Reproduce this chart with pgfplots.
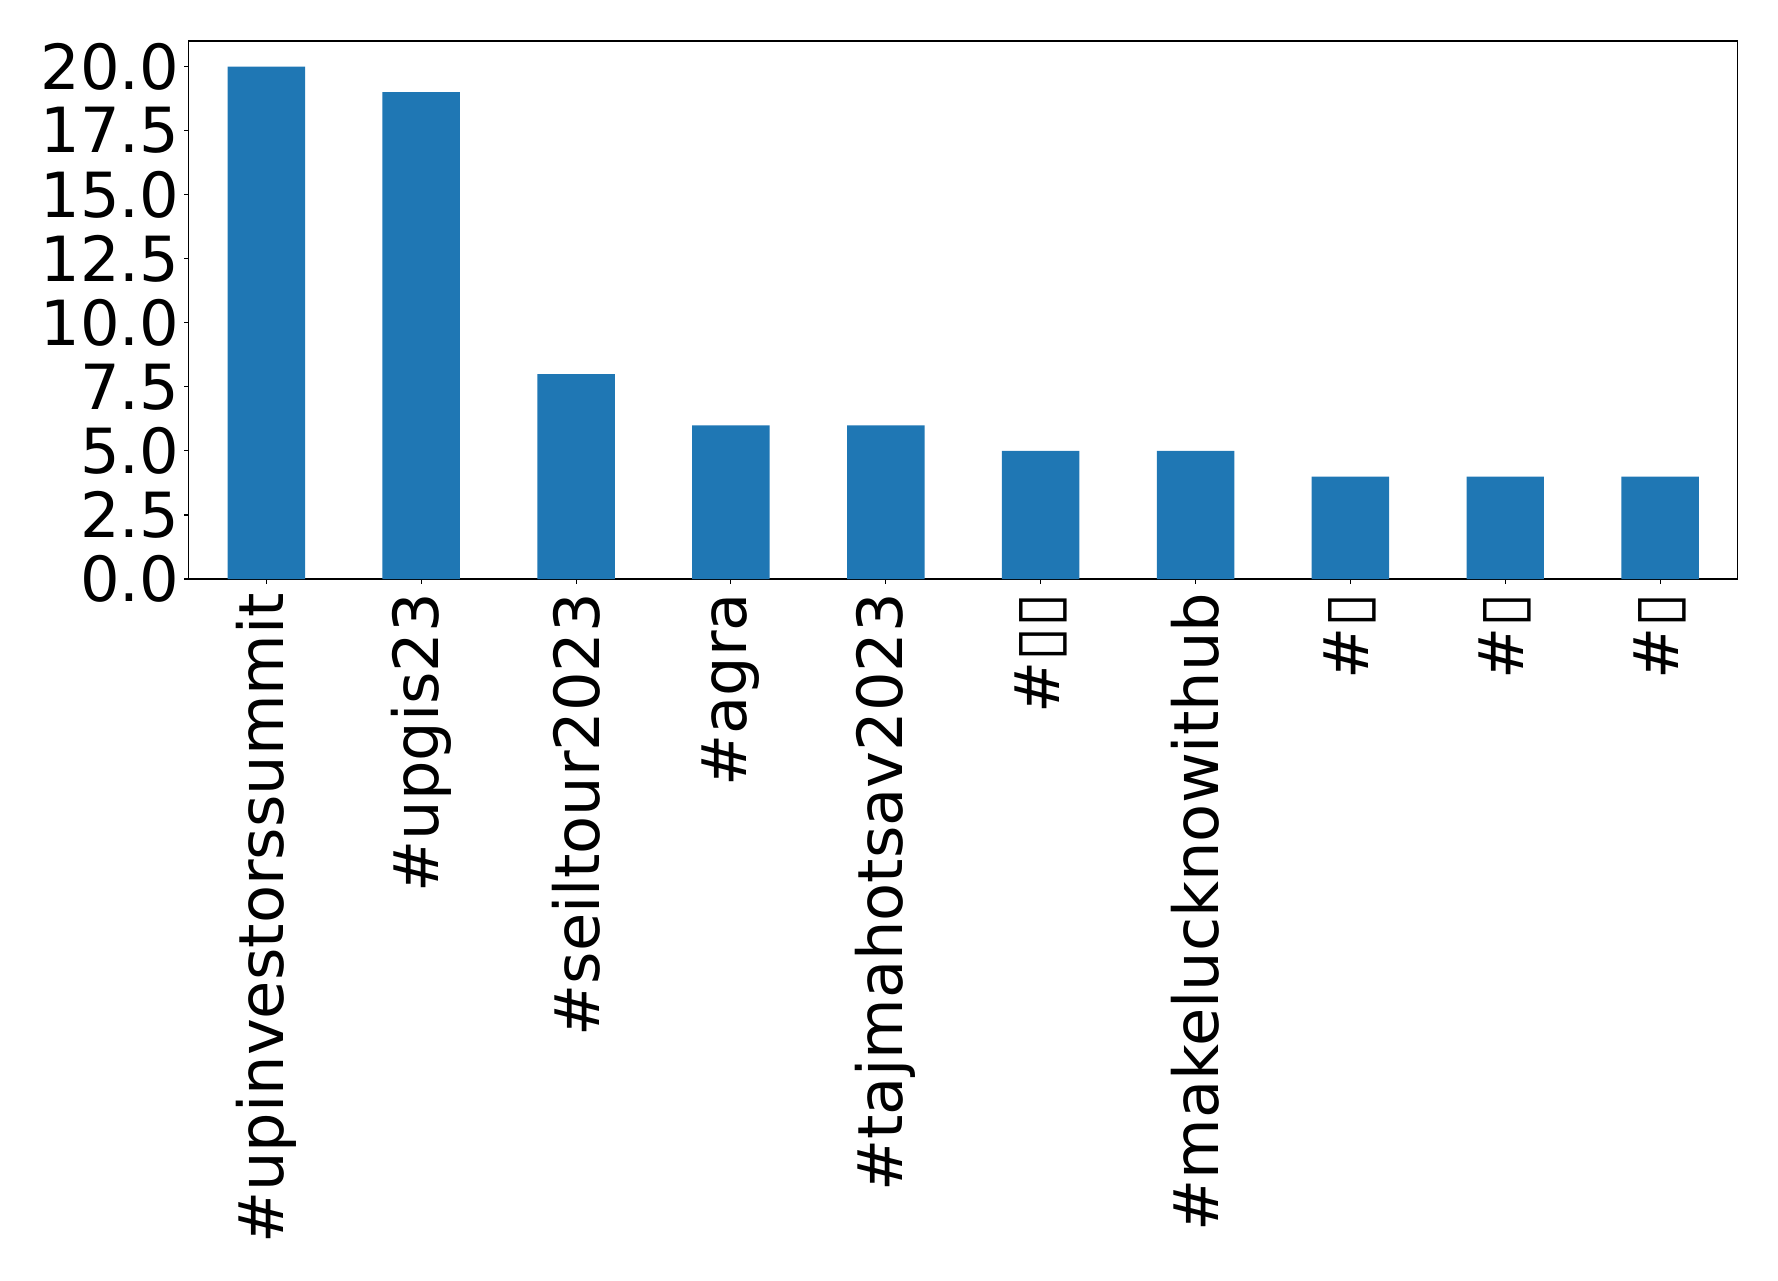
\documentclass[border=0pt]{standalone}
\usepackage{pgfplots}
\pgfplotsset{compat=1.18}
\usepackage{fontspec}
\setmainfont{DejaVu Sans}
\definecolor{mplblue}{HTML}{1F77B4}
\begin{document}
\begin{tikzpicture}
\begin{axis}[
  at={(0,0)}, anchor=south west,
  scale only axis,
  width=1115bp, height=387.4bp,
  xmin=-0.5, xmax=9.5, ymin=0, ymax=21,
  xtick={0,...,9},
  xticklabels={\#upinvestorssummit,\#upgis23,\#seiltour2023,\#agra,\#tajmahotsav2023,\#▯▯,\#makelucknowithub,\#▯,\#▯,\#▯},
  x tick label style={rotate=90, anchor=east, font=\fontsize{45}{50}\selectfont},
  xticklabel shift=3bp,
  ytick={0,2.5,...,20},
  yticklabels={0.0,2.5,5.0,7.5,10.0,12.5,15.0,17.5,20.0},
  y tick label style={font=\fontsize{45}{50}\selectfont},
  tick align=outside,
  major tick length=3.5bp,
  tick style={black, line width=0.8bp},
  xtick pos=bottom, ytick pos=left,
  axis line style={line width=0.8bp},
  /pgf/number format/assume math mode=true,
]
\addplot[ybar, bar width=0.5, fill=mplblue, draw=none] coordinates {
(0,20) (1,19) (2,8) (3,6) (4,6) (5,5) (6,5) (7,4) (8,4) (9,4)
};
\end{axis}
\pgfresetboundingbox
\path[use as bounding box] (-136bp,-505.4bp) rectangle (1144.16bp,416.9bp);
\end{tikzpicture}
\end{document}
